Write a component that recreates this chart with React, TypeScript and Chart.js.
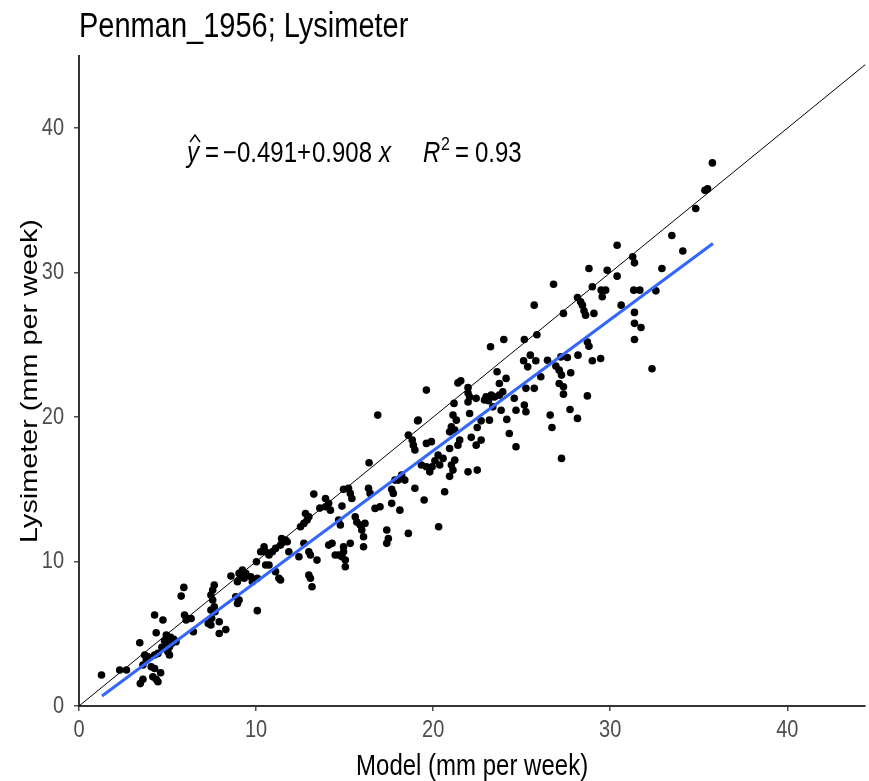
import React, { useEffect, useRef } from "react";
import { Chart, registerables } from "chart.js";

Chart.register(...registerables);

// Model (mm per week)
const modelX: number[] = [
  1.27, 2.3, 2.68, 3.43, 3.61, 3.46, 3.61, 3.8, 3.71, 3.89, 4.08, 4.27, 4.17, 4.36, 4.46, 4.61, 4.27, 4.46,
  4.27, 4.74, 4.36, 4.93, 5.17, 4.83, 5.06, 5.24, 4.93, 4.68, 5.11, 5.35, 5.48, 5.02, 5.11, 5.92, 5.77, 5.96,
  6.14, 6.33, 6.05, 6.46, 7.64, 7.45, 7.68, 7.49, 7.3, 7.92, 7.45, 7.92, 8.29, 7.64, 7.55, 7.45, 7.55, 8.58,
  9.23, 9.04, 9.42, 9.33, 9.14, 8.95, 9.7, 9.79, 10.07, 8.85, 9.04, 8.95, 10.07, 10.02, 10.54, 10.73, 11.1,
  11.29, 11.38, 10.45, 10.26, 10.54, 10.73, 11.1, 10.92, 11.44, 11.66, 11.76, 11.48, 11.38, 11.85, 12.42,
  12.98, 13.07, 13.44, 12.98, 13.07, 13.16, 12.51, 12.79, 12.98, 12.88, 12.7, 12.7, 13.26, 13.92, 14.1, 14.2,
  13.92, 13.6, 14.85, 14.94, 15.22, 15.32, 15.41, 14.66, 14.76, 14.29, 14.1, 14.94, 15.32, 14.47, 14.66,
  14.85, 14.94, 15.04, 15.04, 15.6, 15.69, 15.88, 16.15, 15.97, 16.07, 16.07, 16.38, 16.35, 16.44, 16.87,
  17.0, 16.72, 17.66, 17.66, 17.75, 17.84, 18.03, 18.22, 18.4, 18.97, 18.12, 17.38, 17.47, 17.38, 18.6, 18.6,
  18.82, 18.88, 18.97, 19.12, 19.49, 19.62, 19.16, 19.9, 19.62, 20.28, 20.56, 20.1, 20.37, 19.94, 19.62,
  19.34, 21.03, 21.22, 21.12, 19.81, 20.93, 20.65, 20.31, 20.93, 21.03, 20.93, 21.22, 21.5, 21.4, 21.12,
  21.31, 21.18, 21.4, 21.56, 21.97, 21.97, 22.06, 21.97, 22.99, 23.28, 23.46, 23.74, 23.93, 22.9, 23.13,
  22.43, 24.58, 23.37, 23.84, 22.71, 23.18, 24.16, 22.49, 24.3, 22.15, 22.71, 22.43, 24.68, 21.97, 22.49,
  23.61, 24.12, 23.74, 23.24, 23.99, 24.68, 25.15, 25.24, 25.24, 25.71, 26.08, 25.11, 25.49, 25.8, 25.34,
  25.15, 25.86, 26.46, 26.93, 27.12, 27.25, 27.21, 27.58, 28.18, 27.77, 27.12, 27.36, 27.36, 28.71, 27.73,
  26.61, 26.71, 28.15, 27.25, 25.71, 26.8, 27.36, 28.99, 29.46, 28.71, 28.8, 28.15, 28.33, 28.43, 28.52,
  28.61, 29.08, 28.8, 29.83, 28.99, 29.49, 29.74, 29.55, 30.39, 30.39, 30.62, 31.27, 31.37, 31.33, 31.67,
  31.37, 31.37, 31.74, 31.37, 32.92, 32.58, 32.36, 33.48, 34.1, 34.83, 35.35, 35.5, 35.77, 22.06,
];

// Lysimeter (mm per week)
const lysimeterY: number[] = [
  2.15, 2.49, 2.49, 4.38, 1.85, 1.55, 2.84, 3.18, 3.53, 3.41, 2.72, 2.6, 2.03, 1.85, 1.68, 2.3, 3.53, 3.64,
  6.3, 5.95, 5.07, 4.91, 4.75, 4.52, 4.45, 4.34, 4.22, 4.06, 4.11, 4.62, 4.45, 3.76, 3.53, 8.21, 7.61, 6.3,
  6.06, 6.06, 5.95, 5.14, 6.87, 6.64, 6.53, 6.07, 5.72, 5.83, 5.61, 5.02, 5.29, 8.37, 8.03, 7.68, 7.34, 9.0,
  9.41, 9.18, 9.18, 8.84, 8.95, 8.6, 8.95, 8.6, 8.84, 7.56, 7.34, 7.1, 6.6, 9.99, 9.76, 9.76, 9.3,
  8.84, 8.72, 11.02, 10.68, 10.68, 10.45, 10.91, 10.68, 11.6, 11.49, 11.37, 11.3, 11.14, 10.68, 10.33,
  10.68, 10.45, 10.1, 9.07, 8.84, 8.26, 12.41, 13.32, 13.1, 12.87, 12.64, 11.26, 14.67, 14.37, 14.03, 13.56,
  13.79, 13.7, 13.84, 15.0, 15.07, 14.72, 14.37, 12.87, 12.53, 11.26, 11.14, 11.02, 11.26, 10.45, 10.45,
  10.33, 10.68, 10.1, 9.64, 13.1, 12.73, 12.53, 12.64, 12.18, 11.72, 11.02, 16.84, 15.07, 14.72, 20.14,
  13.79, 13.68, 14.03, 15.0, 14.72, 15.64, 15.64, 15.99, 15.64, 15.07, 13.56, 12.18, 11.6, 11.26, 11.95, 18.75,
  18.41, 18.06, 17.72, 19.74, 14.26, 21.87, 19.79, 18.3, 18.18, 17.37, 17.14, 16.98, 16.68, 16.56, 16.56,
  16.68, 16.68, 17.02, 16.33, 16.21, 15.9, 14.83, 12.41, 17.83, 19.33, 18.98, 19.1, 18.41, 18.06, 20.14,
  19.79, 20.95, 22.37, 22.51, 22.04, 21.67, 21.4, 21.05, 21.4, 21.52, 21.4, 21.52, 21.75, 21.18, 21.13,
  21.3, 21.3, 20.71, 20.48, 19.74, 19.79, 19.84, 19.28, 18.87, 18.6, 18.41, 18.06, 17.95, 16.21, 16.33,
  23.14, 22.68, 22.33, 24.87, 25.37, 20.48, 20.83, 20.37, 21.99, 21.99, 22.79, 23.9, 24.29, 23.9, 23.48,
  25.37, 25.7, 23.94, 23.53, 23.25, 22.91, 24.17, 24.13, 24.29, 23.07, 22.33, 22.1, 21.59, 21.47, 20.53,
  20.14, 19.28, 19.91, 17.14, 27.75, 29.2, 27.18, 23.9, 24.06, 25.2, 24.91, 28.28, 27.98, 27.75, 27.36,
  27.06, 27.18, 30.29, 30.17, 29.02, 28.79, 28.79, 28.33, 31.9, 29.76, 27.75, 31.1, 30.68, 28.79, 28.79,
  27.25, 26.49, 26.2, 25.37, 30.29, 28.74, 23.35, 32.57, 31.5, 34.44, 35.7, 35.8, 37.6, 20.25,
];

const chartTitle = "Penman_1956; Lysimeter";
const xAxisTitle = "Model (mm per week)";
const yAxisTitle = "Lysimeter (mm per week)";
const fitIntercept = -0.491;
const fitSlope = 0.908;
const fitR2 = "0.93";
const fitXRange = [1.3, 35.8];
const identityRange = [0, 50];
const xLimits = [0, 44.4];
const yLimits = [0, 45];
const tickStep = 10;

const FONT = '"Liberation Sans", Arial, Helvetica, sans-serif';
const TEXT_STRETCH = 1.2; // glyphs in the reference are drawn taller than wide

const textPlugin = {
  id: "textPlugin",
  afterDraw(chart: any) {
    const ctx = chart.ctx as CanvasRenderingContext2D;
    ctx.save();
    ctx.fillStyle = "#000";
    ctx.textBaseline = "alphabetic";
    ctx.textAlign = "left";
    ctx.font = `29px ${FONT}`;
    ctx.fillText(chartTitle, 79, 37);

    // regression equation
    const x0 = 187;
    const y0 = 162;
    const reg = `24px ${FONT}`;
    const ita = `italic 24px ${FONT}`;
    const sup = `16px ${FONT}`;
    const put = (t: string, f: string, dx: number, dy = 0) => {
      ctx.font = f;
      ctx.fillText(t, x0 + dx, y0 + dy);
    };
    put("y", ita, 0);
    put("=", reg, 18);
    put("\u2212", reg, 36);
    put("0.491", reg, 50);
    put("+", reg, 110);
    put("0.908", reg, 125);
    put("x", ita, 192);
    put("R", ita, 236);
    put("2", sup, 254, -12);
    put("=", reg, 268);
    put(fitR2, reg, 288);
    // hat over y
    ctx.strokeStyle = "#000";
    ctx.lineWidth = 1.4;
    ctx.beginPath();
    ctx.moveTo(x0 + 3, y0 - 20);
    ctx.lineTo(x0 + 8, y0 - 27);
    ctx.lineTo(x0 + 13, y0 - 20);
    ctx.stroke();
    ctx.restore();
  },
};

function stretchText(ctx: CanvasRenderingContext2D, k: number) {
  const orig = ctx.fillText.bind(ctx);
  (ctx as any).fillText = (text: string, x: number, y: number, maxWidth?: number) => {
    const m = ctx.getTransform();
    const p = m.transformPoint(new DOMPoint(x, y));
    ctx.save();
    ctx.setTransform(new DOMMatrix().translate(p.x, p.y).scale(1, k).translate(-p.x, -p.y).multiply(m));
    if (maxWidth === undefined || maxWidth === null) orig(text, x, y);
    else orig(text, x, y, maxWidth);
    ctx.restore();
  };
}

export default function App() {
  const ref = useRef<HTMLCanvasElement | null>(null);
  useEffect(() => {
    if (!ref.current) return;
    const ctx = ref.current.getContext("2d");
    if (ctx) stretchText(ctx, TEXT_STRETCH);
    const pts = modelX.map((x, i) => ({ x, y: lysimeterY[i] }));
    const fit = fitXRange.map((x) => ({ x, y: fitIntercept + fitSlope * x }));
    const ident = identityRange.map((v) => ({ x: v, y: v }));
    const chart = new Chart(ref.current, {
      type: "scatter",
      data: {
        datasets: [
          {
            type: "scatter",
            data: pts,
            pointRadius: 3.8,
            pointHoverRadius: 3.8,
            backgroundColor: "#000",
            borderWidth: 0,
            order: 3,
          } as any,
          {
            type: "line",
            data: ident,
            borderColor: "#000",
            borderWidth: 1,
            pointRadius: 0,
            fill: false,
            order: 2,
          } as any,
          {
            type: "line",
            data: fit,
            borderColor: "#3366FF",
            borderWidth: 3,
            pointRadius: 0,
            fill: false,
            order: 1,
          } as any,
        ],
      },
      options: {
        animation: false,
        responsive: false,
        devicePixelRatio: 1,
        layout: { padding: { top: 56, left: 0, right: 0, bottom: 0 } },
        plugins: { legend: { display: false }, tooltip: { enabled: false }, title: { display: false } },
        scales: {
          x: {
            type: "linear",
            min: xLimits[0],
            max: xLimits[1],
            ticks: { stepSize: tickStep, includeBounds: false, color: "#4d4d4d", font: { family: FONT, size: 20 }, padding: 7 },
            grid: { display: true, drawOnChartArea: false, drawTicks: true, tickLength: 5, color: "#4d4d4d", lineWidth: 1.5 },
            border: { display: true, color: "#333", width: 2 },
            title: { display: true, text: xAxisTitle, color: "#000", font: { family: FONT, size: 24 }, padding: { top: 0, bottom: 0 } },
            afterFit: (s: any) => { s.height = 75; },
          },
          y: {
            type: "linear",
            min: yLimits[0],
            max: yLimits[1],
            ticks: { stepSize: tickStep, includeBounds: false, color: "#4d4d4d", font: { family: FONT, size: 20 }, padding: 10 },
            grid: { display: true, drawOnChartArea: false, drawTicks: true, tickLength: 5, color: "#4d4d4d", lineWidth: 1.5 },
            border: { display: true, color: "#333", width: 2 },
            title: { display: true, text: yAxisTitle, color: "#000", font: { family: FONT, size: 24 }, padding: { top: 16, bottom: 0 } },
            afterFit: (s: any) => { s.width = 79; },
          },
        },
      },
      plugins: [textPlugin],
    });
    return () => chart.destroy();
  }, []);
  return (
    <div style={{ position: "fixed", left: 0, top: 0, width: 869, height: 781, background: "#fff" }}>
      <canvas ref={ref} width={869} height={781} style={{ display: "block" }} />
    </div>
  );
}
